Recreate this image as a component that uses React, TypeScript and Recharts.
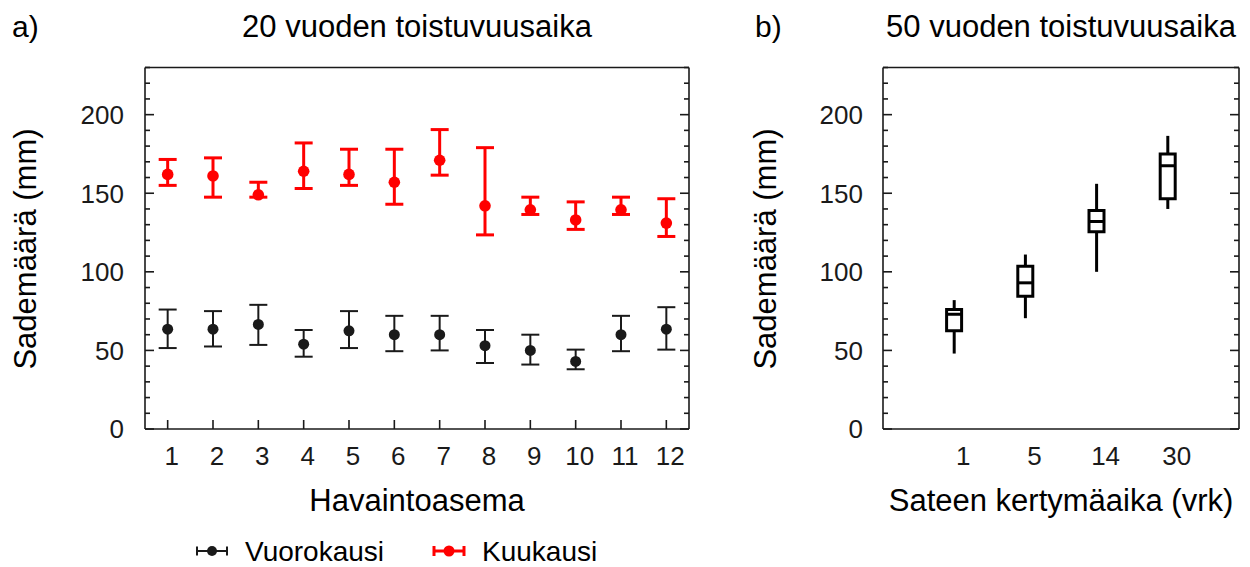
import React from 'react';
import { ComposedChart, Scatter, ErrorBar, XAxis, YAxis, Bar } from 'recharts';

const FONT = '"Liberation Sans", Arial, Helvetica, sans-serif';
const INK = '#1a1a1a';
const RED = '#ff0000';

// ---- Panel a) data ----
const stations = [1, 2, 3, 4, 5, 6, 7, 8, 9, 10, 11, 12];
const dailyMean = [63.5, 63.5, 66.5, 54, 62.5, 60, 60, 53, 50, 43, 60, 63.5];
const dailyLow = [51.5, 52.5, 53.5, 46, 51.5, 49.5, 50, 42, 41, 38, 49.5, 50.5];
const dailyHigh = [76, 75, 79, 63, 75, 72, 72, 63, 60, 50.5, 72, 77.5];
const monthlyMean = [162, 161, 149, 164, 162, 157, 171, 142, 139.5, 133, 139.5, 131];
const monthlyLow = [155, 147.5, 147.5, 153, 155, 143, 161.5, 123.5, 136.5, 127, 136.5, 122.5];
const monthlyHigh = [171.5, 172.5, 157, 182, 178, 178, 190.5, 179, 147.5, 144.5, 147.5, 146.5];
const seriesNames = ['Vuorokausi', 'Kuukausi'];

// ---- Panel b) data ----
const durations = ['1', '5', '14', '30'];
const boxMin = [48, 70.5, 100, 140];
const boxQ1 = [62.5, 84.5, 125.5, 146.5];
const boxMedian = [73, 93, 132, 167.5];
const boxQ3 = [76, 103.5, 139, 175];
const boxMax = [82, 111, 156, 186.5];

// ---- Axis ticks / labels ----
const yTicks = [0, 10, 20, 30, 40, 50, 60, 70, 80, 90, 100, 110, 120, 130, 140, 150, 160, 170, 180, 190, 200, 210, 220, 230];
const yDomain = [0, 230];
const titleA = '20 vuoden toistuvuusaika';
const titleB = '50 vuoden toistuvuusaika';
const xTitleA = 'Havaintoasema';
const xTitleB = 'Sateen kertymäaika (vrk)';
const yTitle = 'Sademäärä (mm)';

const dailyData = stations.map((s, i) => ({
  x: s,
  y: dailyMean[i],
  err: [dailyMean[i] - dailyLow[i], dailyHigh[i] - dailyMean[i]],
}));
const monthlyData = stations.map((s, i) => ({
  x: s,
  y: monthlyMean[i],
  err: [monthlyMean[i] - monthlyLow[i], monthlyHigh[i] - monthlyMean[i]],
}));
const boxData = durations.map((d, i) => ({
  x: i + 1,
  label: d,
  q1: boxQ1[i],
  q3: boxQ3[i],
  med: boxMedian[i],
  box: [boxQ1[i], boxQ3[i]],
  lowErr: [boxQ1[i] - boxMin[i], 0],
  highErr: [0, boxMax[i] - boxQ3[i]],
}));

const LINE_W = 1.6;
const Y_GAP = 21;

const LeftYTick = (props: any) => {
  const { x, y, payload, gap } = props;
  const v = Number(payload.value);
  const major = v % 50 === 0;
  const edge = x + gap;
  return (
    <g>
      <line x1={edge} x2={edge + (major ? 9 : 5)} y1={y} y2={y} stroke={INK} strokeWidth={LINE_W} />
      {major && (
        <text x={x} y={y} dy="0.36em" textAnchor="end" fontSize={26} fontFamily={FONT} fill={INK}>
          {v}
        </text>
      )}
    </g>
  );
};

const RightYTick = (props: any) => {
  const { x, y, payload } = props;
  const v = Number(payload.value);
  const major = v % 50 === 0;
  return <line x1={x} x2={x - (major ? 9 : 5)} y1={y} y2={y} stroke={INK} strokeWidth={LINE_W} />;
};

const makeBottomTick = (labels: string[] | null, dx: number, withLine: boolean) => (props: any) => {
  const { x, y, payload } = props;
  const v = Number(payload.value);
  const text = labels ? labels[v - 1] : String(v);
  return (
    <g>
      {withLine && <line x1={x} x2={x} y1={y} y2={y - 9} stroke={INK} strokeWidth={LINE_W} />}
      <text x={x + dx} y={y + 36} textAnchor="middle" fontSize={26} fontFamily={FONT} fill={INK}>
        {text}
      </text>
    </g>
  );
};

const TopTick = (props: any) => {
  const { x, y } = props;
  return <line x1={x} x2={x} y1={y} y2={y + 8} stroke={INK} strokeWidth={LINE_W} />;
};

const axisLine = { stroke: INK, strokeWidth: LINE_W };

const BottomTickA = makeBottomTick(null, 4, true);
const BottomTickB = makeBottomTick(durations, 9, false);

// Axis thickness reserved inside the margins (axes need a non-zero size to render)
const AX_L = 60;
const AX_B = 60;
const AX_T = 10;
const AX_R = 10;

function PanelA() {
  return (
    <ComposedChart
      width={720}
      height={567}
      margin={{ top: 67.5 - AX_T, right: 31 - AX_R, bottom: 138 - AX_B, left: 145 - AX_L }}
    >
      <XAxis
        type="number"
        dataKey="x"
        domain={[0.5, 12.5]}
        ticks={stations}
        interval={0}
        allowDataOverflow
        height={AX_B}
        tickSize={0}
        tickMargin={0}
        tickLine={false}
        axisLine={axisLine}
        tick={(p: any) => <BottomTickA {...p} />}
      />
      <XAxis
        xAxisId="top"
        orientation="top"
        type="number"
        domain={[0.5, 12.5]}
        ticks={stations}
        interval={0}
        allowDataOverflow
        height={AX_T}
        tickSize={0}
        tickMargin={0}
        tickLine={false}
        axisLine={axisLine}
        tick={(p: any) => <TopTick {...p} />}
      />
      <YAxis
        type="number"
        domain={yDomain}
        ticks={yTicks}
        interval={0}
        allowDataOverflow
        width={AX_L}
        tickSize={0}
        tickMargin={Y_GAP}
        tickLine={false}
        axisLine={axisLine}
        tick={(p: any) => <LeftYTick {...p} gap={Y_GAP} />}
      />
      <YAxis
        yAxisId="r"
        orientation="right"
        type="number"
        domain={yDomain}
        ticks={yTicks}
        interval={0}
        allowDataOverflow
        width={AX_R}
        tickSize={0}
        tickMargin={0}
        tickLine={false}
        axisLine={axisLine}
        tick={(p: any) => <RightYTick {...p} />}
      />
      <Scatter
        name={seriesNames[0]}
        data={dailyData}
        dataKey="y"
        isAnimationActive={false}
        shape={(p: any) => <circle cx={p.cx} cy={p.cy} r={5.5} fill={INK} />}
      >
        <ErrorBar dataKey="err" direction="y" width={9} stroke={INK} strokeWidth={2} />
      </Scatter>
      <Scatter
        name={seriesNames[1]}
        data={monthlyData}
        dataKey="y"
        isAnimationActive={false}
        shape={(p: any) => <circle cx={p.cx} cy={p.cy} r={5.8} fill={RED} />}
      >
        <ErrorBar dataKey="err" direction="y" width={9} stroke={RED} strokeWidth={3} />
      </Scatter>
    </ComposedChart>
  );
}

function PanelB() {
  return (
    <ComposedChart
      width={510}
      height={567}
      data={boxData}
      margin={{ top: 67.5 - AX_T, right: 11 - AX_R, bottom: 138 - AX_B, left: 143 - AX_L }}
    >
      <XAxis
        type="number"
        dataKey="x"
        domain={[0, 5]}
        ticks={[1, 2, 3, 4]}
        interval={0}
        allowDataOverflow
        height={AX_B}
        tickSize={0}
        tickMargin={0}
        tickLine={false}
        axisLine={axisLine}
        tick={(p: any) => <BottomTickB {...p} />}
      />
      <XAxis
        xAxisId="top"
        orientation="top"
        type="number"
        domain={[0, 5]}
        allowDataOverflow
        height={AX_T}
        tick={false}
        tickLine={false}
        axisLine={axisLine}
      />
      <YAxis
        type="number"
        domain={yDomain}
        ticks={yTicks}
        interval={0}
        allowDataOverflow
        width={AX_L}
        tickSize={0}
        tickMargin={Y_GAP - 1}
        tickLine={false}
        axisLine={axisLine}
        tick={(p: any) => <LeftYTick {...p} gap={Y_GAP - 1} />}
      />
      <YAxis
        yAxisId="r"
        orientation="right"
        type="number"
        domain={yDomain}
        ticks={yTicks}
        interval={0}
        allowDataOverflow
        width={AX_R}
        tickSize={0}
        tickMargin={0}
        tickLine={false}
        axisLine={axisLine}
        tick={(p: any) => <RightYTick {...p} />}
      />
      <Scatter dataKey="q1" isAnimationActive={false} shape={() => <g />}>
        <ErrorBar dataKey="lowErr" direction="y" width={0} stroke="#000" strokeWidth={3} />
      </Scatter>
      <Scatter dataKey="q3" isAnimationActive={false} shape={() => <g />}>
        <ErrorBar dataKey="highErr" direction="y" width={0} stroke="#000" strokeWidth={3} />
      </Scatter>
      <Bar dataKey="box" barSize={15} fill="#fff" stroke="#000" strokeWidth={3} isAnimationActive={false} />
      <Scatter
        dataKey="med"
        isAnimationActive={false}
        shape={(p: any) => (
          <line x1={p.cx - 7.5} x2={p.cx + 7.5} y1={p.cy} y2={p.cy} stroke="#000" strokeWidth={3} />
        )}
      />
    </ComposedChart>
  );
}

function Overlay() {
  const t = { fontFamily: FONT, fill: '#000' } as const;
  const ly = 551;
  return (
    <svg width={1250} height={567} style={{ position: 'absolute', left: 0, top: 0, pointerEvents: 'none' }}>
      <text x={12} y={37} fontSize={30} {...t}>a)</text>
      <text x={417} y={37} fontSize={31} textAnchor="middle" {...t}>{titleA}</text>
      <text x={755} y={37} fontSize={30} {...t}>b)</text>
      <text x={1061} y={37} fontSize={31} textAnchor="middle" {...t}>{titleB}</text>
      <text x={417} y={511} fontSize={31} textAnchor="middle" {...t}>{xTitleA}</text>
      <text x={1061} y={511} fontSize={31} textAnchor="middle" {...t}>{xTitleB}</text>
      <text x={36} y={249} fontSize={31} textAnchor="middle" transform="rotate(-90 36 249)" {...t}>{yTitle}</text>
      <text x={776} y={249} fontSize={31} textAnchor="middle" transform="rotate(-90 776 249)" {...t}>{yTitle}</text>
      <g>
        <line x1={197} x2={227} y1={ly} y2={ly} stroke={INK} strokeWidth={2} />
        <line x1={197} x2={197} y1={ly - 4.5} y2={ly + 4.5} stroke={INK} strokeWidth={2} />
        <line x1={227} x2={227} y1={ly - 4.5} y2={ly + 4.5} stroke={INK} strokeWidth={2} />
        <circle cx={212} cy={ly} r={5} fill={INK} />
        <text x={245} y={ly + 10} fontSize={28} {...t}>{seriesNames[0]}</text>
        <line x1={434} x2={464} y1={ly} y2={ly} stroke={RED} strokeWidth={3} />
        <line x1={434} x2={434} y1={ly - 5} y2={ly + 5} stroke={RED} strokeWidth={3} />
        <line x1={464} x2={464} y1={ly - 5} y2={ly + 5} stroke={RED} strokeWidth={3} />
        <circle cx={449} cy={ly} r={5.5} fill={RED} />
        <text x={482} y={ly + 10} fontSize={28} {...t}>{seriesNames[1]}</text>
      </g>
    </svg>
  );
}

export default function App() {
  return (
    <div style={{ position: 'absolute', left: 0, top: 0, width: 1250, height: 567, background: '#fff', overflow: 'hidden' }}>
      <div style={{ position: 'absolute', left: 0, top: 0 }}>
        <PanelA />
      </div>
      <div style={{ position: 'absolute', left: 740, top: 0 }}>
        <PanelB />
      </div>
      <Overlay />
    </div>
  );
}
